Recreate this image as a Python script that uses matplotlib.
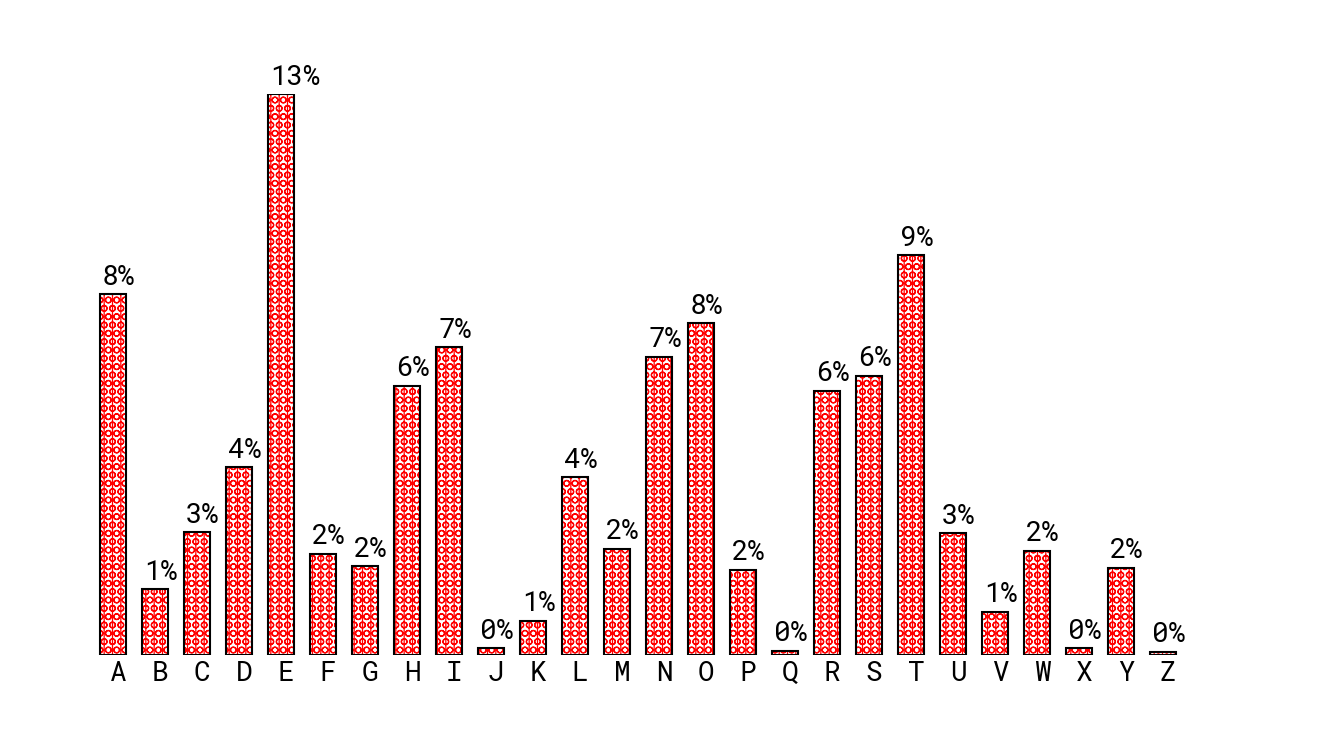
import matplotlib
matplotlib.use('Agg')
import matplotlib.pyplot as plt
from matplotlib import font_manager

letters = list('ABCDEFGHIJKLMNOPQRSTUVWXYZ')
frequency = [0.08167, 0.01492, 0.02782, 0.04253, 0.12702, 0.02288, 0.02015,
             0.06094, 0.06966, 0.00153, 0.00772, 0.04025, 0.02406, 0.06749,
             0.07507, 0.01929, 0.00095, 0.05987, 0.06327, 0.09056, 0.02758,
             0.00978, 0.02360, 0.00150, 0.01974, 0.00074]

names = {f.name for f in font_manager.fontManager.ttflist}
fam = [f for f in ['Roboto Mono', 'DejaVu Sans Mono'] if f in names]
plt.rcParams['font.family'] = fam
plt.rcParams['hatch.linewidth'] = 0.9

W, H = 1320, 748
fig = plt.figure(figsize=(W / 100, H / 100), dpi=100)
ax = fig.add_axes([92 / W, 1 - 655 / H, (1184 - 92) / W, (655 - 94) / H])

# bars sit at the start of each band, tick labels at the band centre
x = list(range(len(letters)))
left = [i - 0.43 for i in x]
bw = 0.62
ax.bar(left, frequency, width=bw, align='edge', facecolor='white',
       edgecolor='red', linewidth=0, hatch='||OO')
ax.bar(left, frequency, width=bw, align='edge', facecolor='none',
       edgecolor='black', linewidth=1.5)

for l, v in zip(left, frequency):
    ax.annotate(f"{v:.0%}", (l, v), xytext=(1.5, 2.5), textcoords='offset points',
                ha='left', va='bottom', fontsize=20)

ax.set_xlim(-0.62, len(letters) - 0.62)
ax.set_ylim(0, max(frequency))
ax.set_xticks(x)
ax.set_xticklabels(letters, fontsize=20)
ax.tick_params(axis='x', length=0, pad=4)
ax.set_yticks([])
for s in ax.spines.values():
    s.set_visible(False)

fig.savefig('out.png', dpi=100)
